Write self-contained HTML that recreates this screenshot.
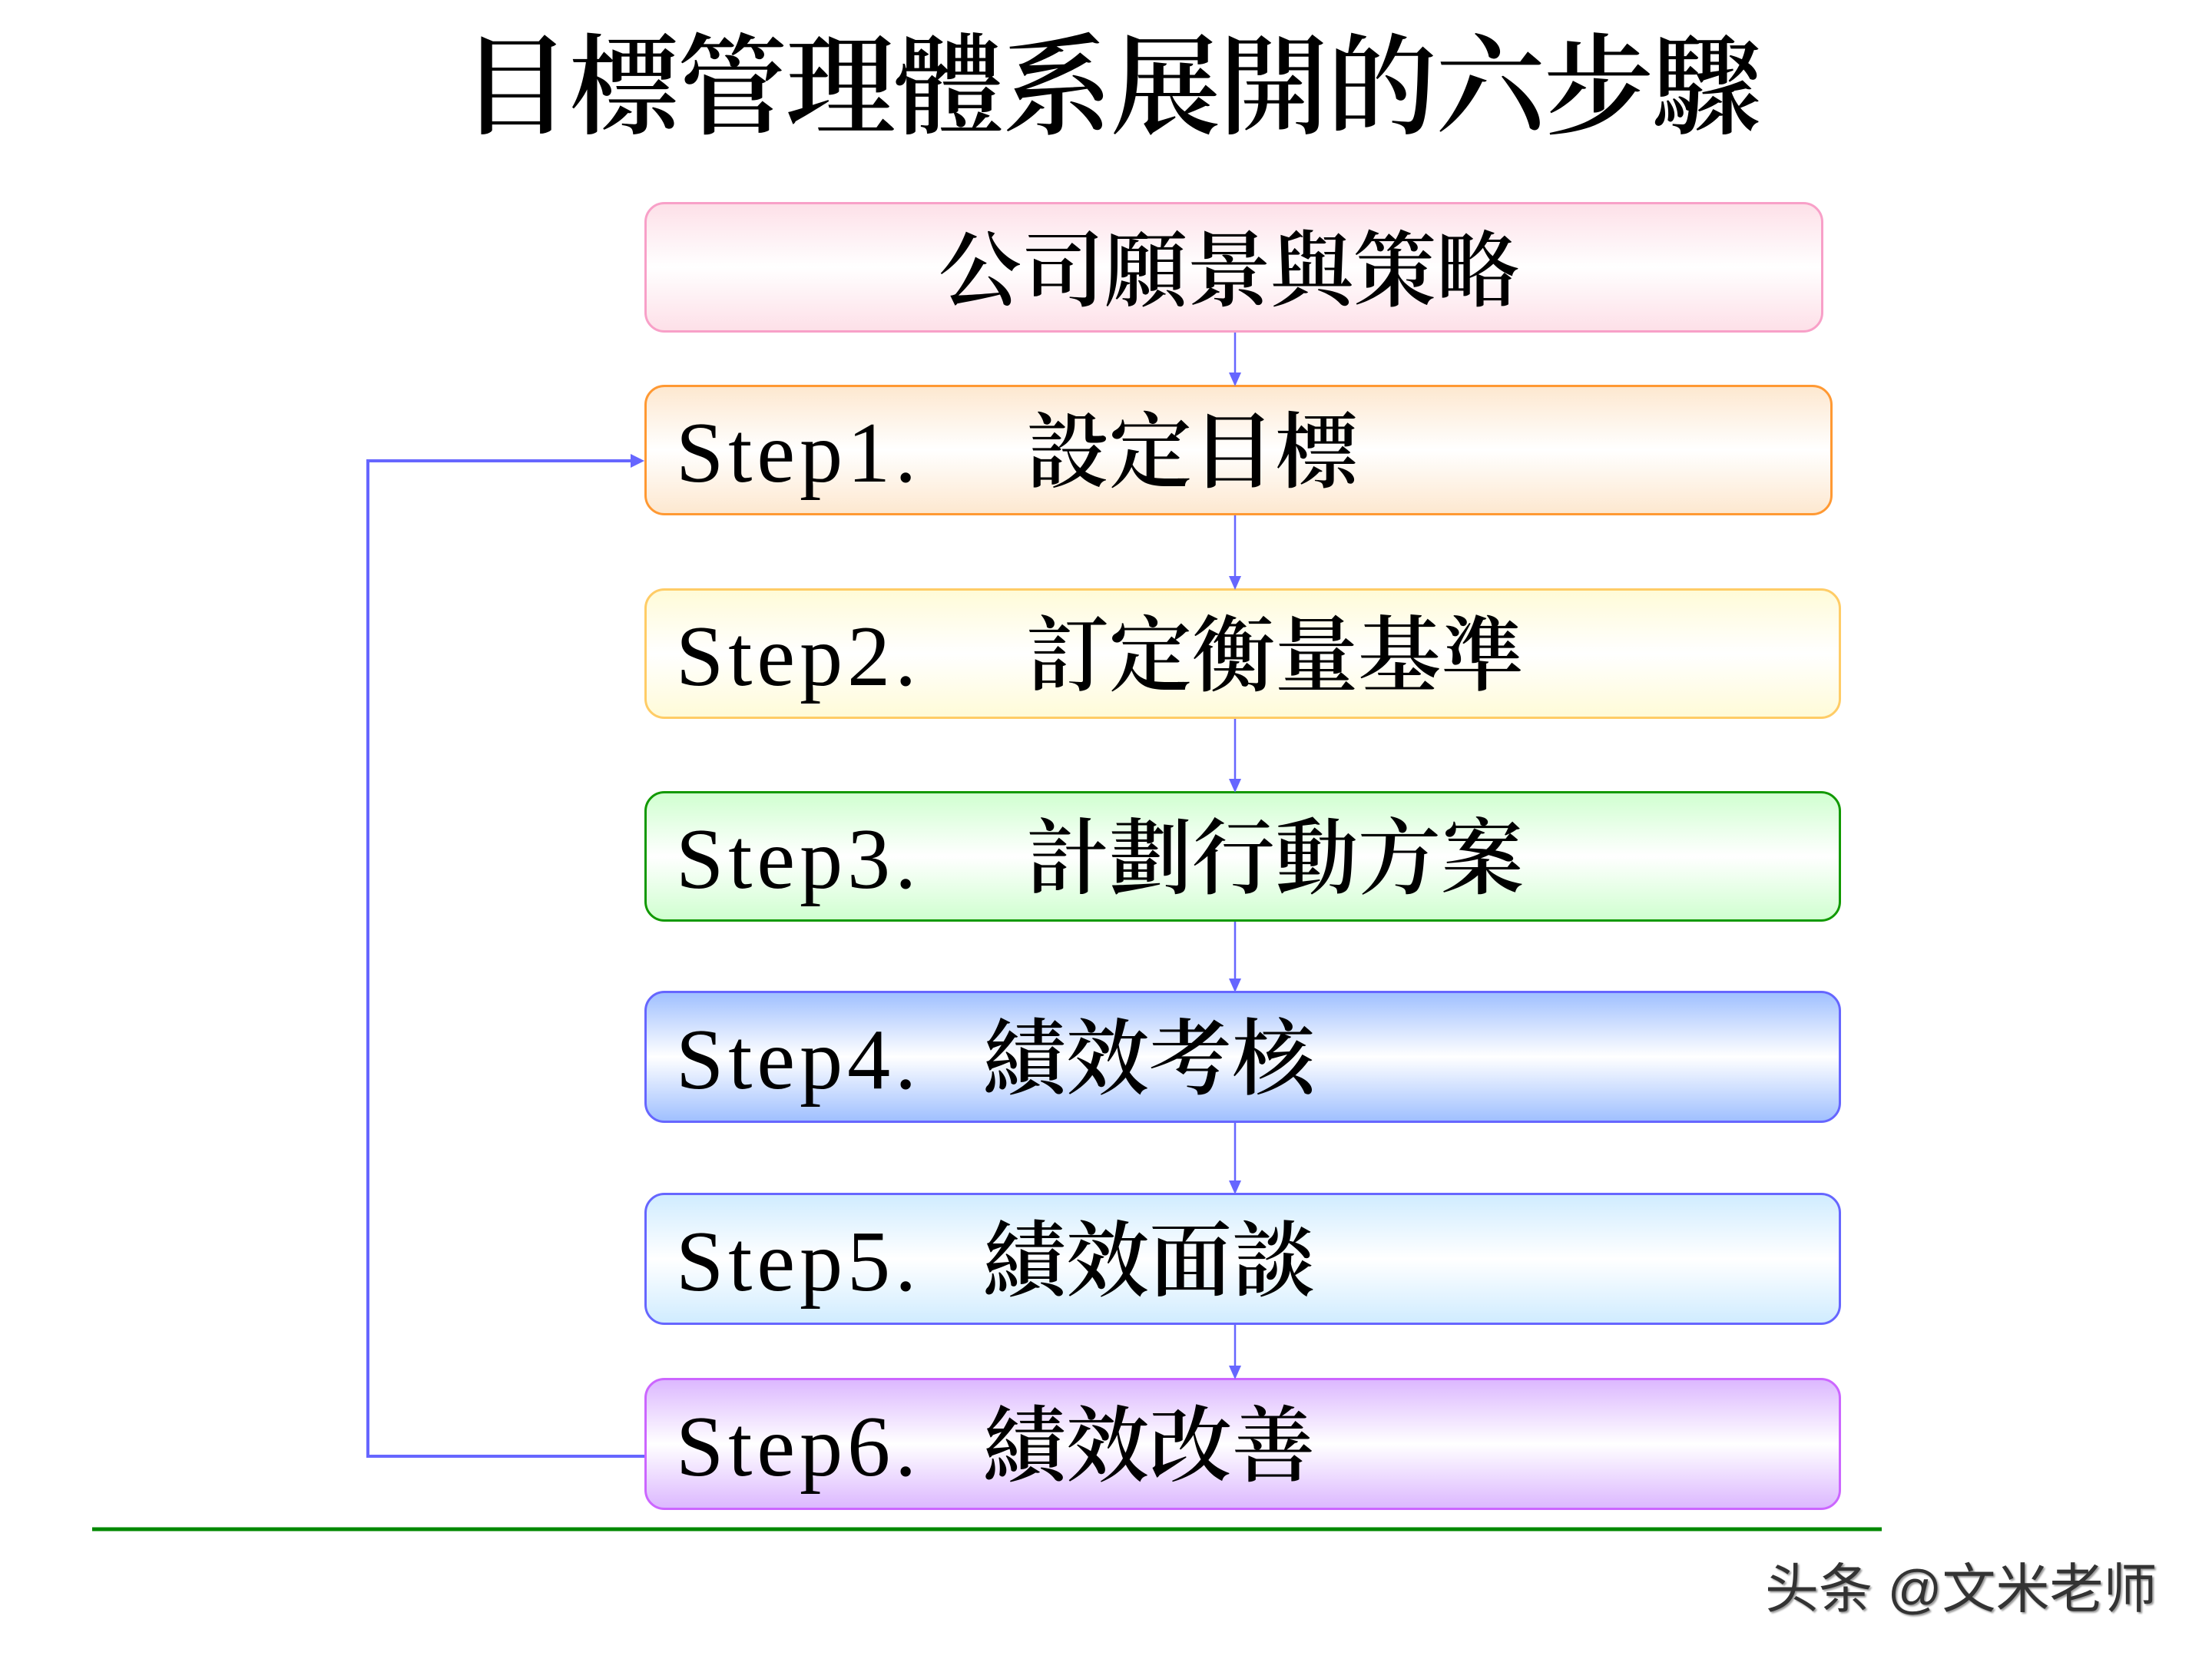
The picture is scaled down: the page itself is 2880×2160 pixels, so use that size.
<!DOCTYPE html>
<html><head><meta charset="utf-8"><style>
body{margin:0;width:2880px;height:2160px;background:#fff;position:relative;overflow:hidden;font-family:"Liberation Serif","Noto Serif CJK SC",serif}
.b{position:absolute;left:839px;border:3px solid;border-radius:26px;box-sizing:border-box}
.t{position:absolute;white-space:nowrap;line-height:1;color:#000}
.s{font-family:"Liberation Serif",serif;font-size:112px;letter-spacing:6px}
.c{font-family:"Noto Serif CJK SC",serif;font-size:108px;font-weight:600}
</style></head><body>
<div class="t c" style="left:600px;top:30px;font-size:143px;letter-spacing:-2px;font-weight:600">目標管理體系展開的六步驟</div>

<div class="b" style="top:263px;width:1535px;height:170px;border-color:#f8a0c8;background:linear-gradient(#fde0e8,#fff 50%,#fde0e8)"></div>
<div class="t c" style="left:1222px;top:290px">公司願景與策略</div>

<div class="b" style="top:501px;width:1547px;height:170px;border-color:#f93;background:linear-gradient(#fde8d0,#fff 50%,#fde8d0)"></div>
<div class="b" style="top:766px;width:1558px;height:170px;border-color:#fc6;background:linear-gradient(#fffbd8,#fff 50%,#fffbd8)"></div>
<div class="b" style="top:1030px;width:1558px;height:170px;border-color:#190;background:linear-gradient(#d0ffd0,#fff 50%,#d0ffd0)"></div>
<div class="b" style="top:1290px;width:1558px;height:172px;border-color:#66f;background:linear-gradient(#a0c0ff,#fff 50%,#a0c0ff)"></div>
<div class="b" style="top:1553px;width:1558px;height:172px;border-color:#66f;background:linear-gradient(#d0ecff,#fff 50%,#d0ecff)"></div>
<div class="b" style="top:1794px;width:1558px;height:172px;border-color:#c6f;background:linear-gradient(#dcb8ff,#fff 50%,#dcb8ff)"></div>

<div class="t s" style="left:880px;top:534px">Step1.</div><div class="t c" style="left:1336px;top:526px">設定目標</div>
<div class="t s" style="left:880px;top:799px">Step2.</div><div class="t c" style="left:1336px;top:791px">訂定衡量基準</div>
<div class="t s" style="left:880px;top:1063px">Step3.</div><div class="t c" style="left:1336px;top:1055px">計劃行動方案</div>
<div class="t s" style="left:880px;top:1324px">Step4.</div><div class="t c" style="left:1280px;top:1316px">績效考核</div>
<div class="t s" style="left:880px;top:1587px">Step5.</div><div class="t c" style="left:1280px;top:1579px">績效面談</div>
<div class="t s" style="left:880px;top:1828px">Step6.</div><div class="t c" style="left:1280px;top:1820px">績效改善</div>

<svg width="2880" height="2160" style="position:absolute;left:0;top:0">
<g stroke="#66f" stroke-width="2.5" fill="none">
<line x1="1608" y1="433" x2="1608" y2="487"/>
<line x1="1608" y1="671" x2="1608" y2="752"/>
<line x1="1608" y1="936" x2="1608" y2="1016"/>
<line x1="1608" y1="1200" x2="1608" y2="1276"/>
<line x1="1608" y1="1462" x2="1608" y2="1539"/>
<line x1="1608" y1="1725" x2="1608" y2="1780"/>
</g>
<g fill="#66f">
<polygon points="1600,485 1616,485 1608,503"/>
<polygon points="1600,750 1616,750 1608,768"/>
<polygon points="1600,1014 1616,1014 1608,1032"/>
<polygon points="1600,1274 1616,1274 1608,1292"/>
<polygon points="1600,1537 1616,1537 1608,1555"/>
<polygon points="1600,1778 1616,1778 1608,1796"/>
<polygon points="821,591 839,600 821,609"/>
</g>
<polyline points="839,1896 479,1896 479,600 825,600" stroke="#66f" stroke-width="4" fill="none"/>
<line x1="120" y1="1991" x2="2450" y2="1991" stroke="#080" stroke-width="5"/>
</svg>
<div class="t" style="left:2298px;top:2034px;font-size:70px;font-family:'Liberation Sans','Noto Sans CJK SC',sans-serif;color:#333;text-shadow:2px 2px 2px #999">头条 @文米老师</div>
</body></html>
